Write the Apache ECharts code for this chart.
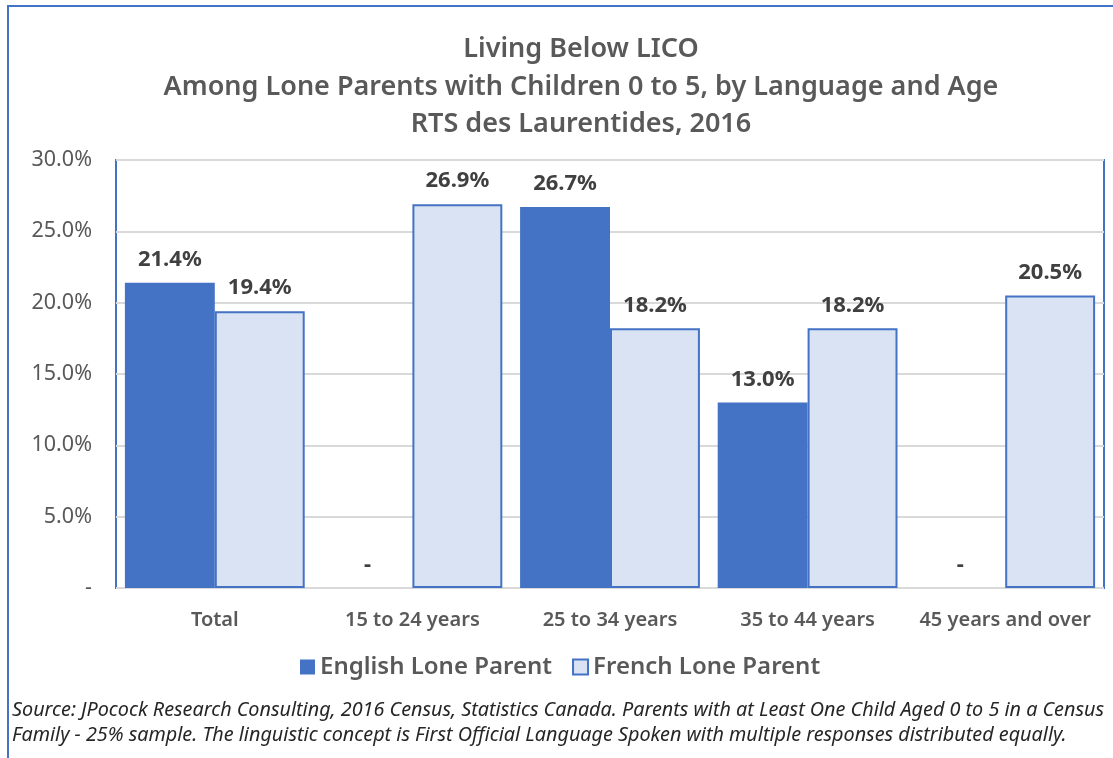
<!DOCTYPE html>
<html>
<head>
<meta charset="utf-8">
<script src="https://cdn.jsdelivr.net/npm/echarts@6/dist/echarts.min.js"></script>
<style>
html,body{margin:0;padding:0;background:#fff;}
#c{width:1113px;height:758px;}
</style>
</head>
<body>
<div id="c"></div>
<script>
const categories = ['Total', '15 to 24 years', '25 to 34 years', '35 to 44 years', '45 years and over'];
const englishValues = [21.4, 0, 26.7, 13.0, 0];
const frenchValues = [19.4, 26.9, 18.2, 18.2, 20.5];
const yTicks = [0, 5, 10, 15, 20, 25, 30];
const titleLines = ['Living Below LICO', 'Among Lone Parents with Children 0 to 5, by Language and Age', 'RTS des Laurentides, 2016'];
const sourceLines = ['Source: JPocock Research Consulting, 2016 Census, Statistics Canada. Parents with at Least One Child Aged 0 to 5 in a Census', 'Family - 25% sample. The linguistic concept is First Official Language Spoken with multiple responses distributed equally.'];

const FONT = 'Noto Sans';
const chart = echarts.init(document.getElementById('c'));
const labelFmt = p => p.value === 0 ? '-' : p.value.toFixed(1) + '%';
chart.setOption({
  backgroundColor: '#fff',
  animation: false,
  title: {
    text: titleLines.join('\n'),
    left: 576,
    textAlign: 'center',
    top: 26,
    textStyle: { fontFamily: FONT, fontSize: 27, fontWeight: 600, color: '#595959', lineHeight: 37.5 }
  },
  legend: {
    top: 650,
    left: 295,
    itemWidth: 15, itemHeight: 15, itemGap: 20,
    icon: 'rect',
    textStyle: { fontFamily: FONT, fontSize: 24, fontWeight: 600, color: '#595959' },
    data: ['English Lone Parent', 'French Lone Parent']
  },
  grid: {
    left: 116, right: 9, top: 160, bottom: 170,
    show: true, borderColor: '#4472C4', borderWidth: 2, containLabel: false
  },
  xAxis: {
    type: 'category',
    data: categories,
    axisLine: { show: false },
    axisTick: { show: false },
    axisLabel: { interval: 0, hideOverlap: false, fontFamily: FONT, fontSize: 20, fontWeight: 600, color: '#595959', margin: 22 }
  },
  yAxis: {
    type: 'value',
    min: 0, max: 30, interval: 5,
    axisLine: { show: false },
    axisTick: { show: false },
    splitLine: { lineStyle: { color: '#D9D9D9', width: 2 } },
    axisLabel: {
      fontFamily: FONT, fontSize: 21.5, color: '#595959', margin: 24,
      formatter: v => v === 0 ? '-' : v.toFixed(1) + '%'
    }
  },
  series: [
    {
      name: 'English Lone Parent',
      type: 'bar',
      data: englishValues,
      barGap: '0%',
      barCategoryGap: '9%',
      itemStyle: { color: '#4472C4' },
      label: { show: true, position: 'top', distance: 12, formatter: labelFmt,
        fontFamily: FONT, fontSize: 22, fontWeight: 'bold', color: '#404040' }
    },
    {
      name: 'French Lone Parent',
      type: 'bar',
      data: frenchValues,
      barGap: '0%',
      barCategoryGap: '9%',
      itemStyle: { color: '#DAE3F3', borderColor: '#4472C4', borderWidth: 2 },
      label: { show: true, position: 'top', distance: 12, formatter: labelFmt,
        fontFamily: FONT, fontSize: 22, fontWeight: 'bold', color: '#404040' }
    }
  ],
  graphic: [
    { type: 'rect', shape: { x: 8, y: 6, width: 1200, height: 900 }, style: { fill: 'none', stroke: '#4472C4', lineWidth: 2 }, silent: true },
    { type: 'text', left: 12, top: 698, style: { text: sourceLines.join('\n'), fontFamily: FONT, fontStyle: 'italic', fontSize: 19.8, lineHeight: 25, fill: '#262626' } }
  ]
});
</script>
</body>
</html>
